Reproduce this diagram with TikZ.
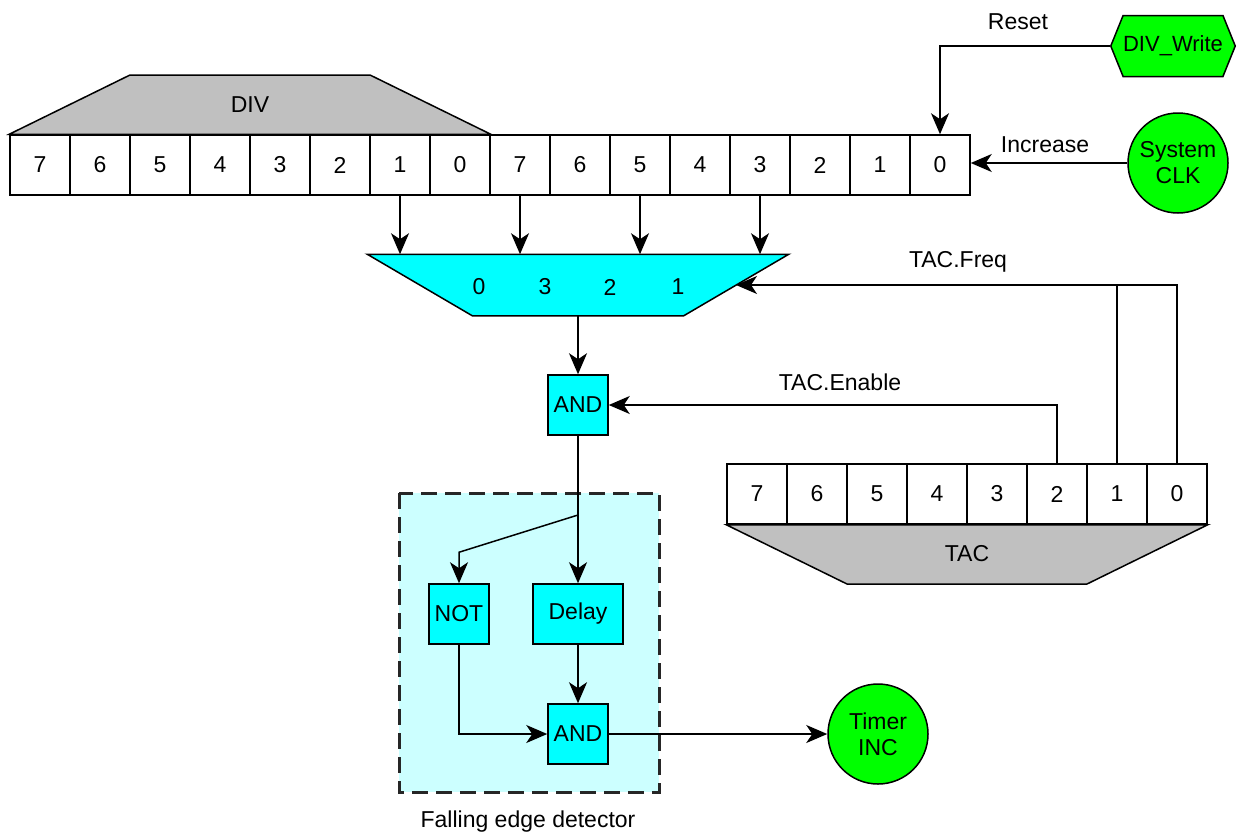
\documentclass[tikz,border=0pt]{standalone}
\usepackage{fontspec}
\setmainfont{Liberation Sans}
\usetikzlibrary{arrows.meta,shapes.symbols}
\definecolor{regrey}{HTML}{C0C0C0}
\definecolor{gatecyan}{HTML}{00FFFF}
\definecolor{boxcyan}{HTML}{CCFFFF}
\definecolor{siggreen}{HTML}{00FF00}
\tikzset{
bit/.style={draw, minimum width=30pt, minimum height=30pt, inner sep=0pt},
gate/.style={draw, fill=gatecyan, minimum width=30pt, minimum height=30pt, inner sep=0pt},
sigcirc/.style={draw, fill=siggreen, circle, minimum size=50pt, inner sep=0pt, align=center}
}
\begin{document}
\begin{tikzpicture}[x=0.5pt, y=-0.5pt, >={Stealth[length=10.5pt,width=9pt,inset=3pt]}, line width=0.75pt, font=\fontsize{11.5}{13}\selectfont]
\useasboundingbox (0,0) rectangle (1240,835);
\draw[line width=1.5pt, dash pattern=on 8pt off 4pt, draw=black!85, fill=boxcyan] (399,493) rectangle (659,792);
\node (fedlbl) at (528,822){Falling edge detector};
\foreach \b in {0,...,7}{
\node[bit] (dh\b) at ({40+60*(7-\b)},165){\b};
\node[bit] (dl\b) at ({520+60*(7-\b)},165){\b};
\node[bit] (tac\b) at ({757+60*(7-\b)},494){\b};
}
\draw[fill=regrey] (dh7.north west) -- (130,75) -- (370,75) -- (dh0.north east) -- cycle;
\node (divlbl) at (250,105){DIV};
\draw[fill=regrey] (tac7.south west) -- (847,584) -- (1087,584) -- (tac0.south east) -- cycle;
\node (taclbl) at (967,554){TAC};
\node[minimum width=105pt, minimum height=30pt, inner sep=0pt] (mux) at (578,285){};
\draw[fill=gatecyan] ([xshift=-52.5pt]mux.north west) -- ([xshift=52.5pt]mux.north east) -- (mux.south east) -- (mux.south west) -- cycle;
\coordinate (muxin) at (736,285);
\foreach \s/\x in {0/479,3/545,2/610,1/678} \node (mux\s) at (\x,287){\s};
\foreach \n in {dh1,dl7,dl5,dl3} \draw[->] (\n.south) -- (\n.south |- mux.north);
\node[signal, signal to=east and west, signal pointer angle=136, draw, fill=siggreen, minimum width=56pt, minimum height=30.5pt, inner sep=0pt, font=\fontsize{11}{13}\selectfont] (divw) at (1173,46){DIV\_Write};
\node[sigcirc] (clk) at (1178,163){System\\CLK};
\draw[->] (divw.west) -| (dl0.north);
\node (rstlbl) at (1018,22){Reset};
\draw[->] (clk.west) -- (clk.west -| dl0.east);
\node (inclbl) at (1045,145){Increase};
\node[gate] (and1) at (578,405){AND};
\draw[->] (mux.south) -- (and1.north);
\draw[->] (tac2.north) |- (and1.east);
\node (enlbl) at (840,382){TAC.Enable};
\draw[->] (tac0.north) |- (muxin);
\draw (tac1.north) -- (tac1.north |- muxin);
\node (freqlbl) at (958,262){TAC.Freq};
\node[gate] (not) at (459,614){NOT};
\node[gate, minimum width=45pt] (delay) at (578,614){Delay};
\node[gate] (and2) at (578,734){AND};
\node[sigcirc] (tinc) at (878,734){Timer\\INC};
\coordinate (split) at (578,515);
\draw[->] (and1.south) -- (delay.north);
\draw[->] (split) -- ([yshift=15.5pt]not.north) -- (not.north);
\draw[->] (delay.south) -- (and2.north);
\draw[->] (not.south) |- (and2.west);
\draw[->] (and2.east) -- (tinc.west);
\end{tikzpicture}
\end{document}
